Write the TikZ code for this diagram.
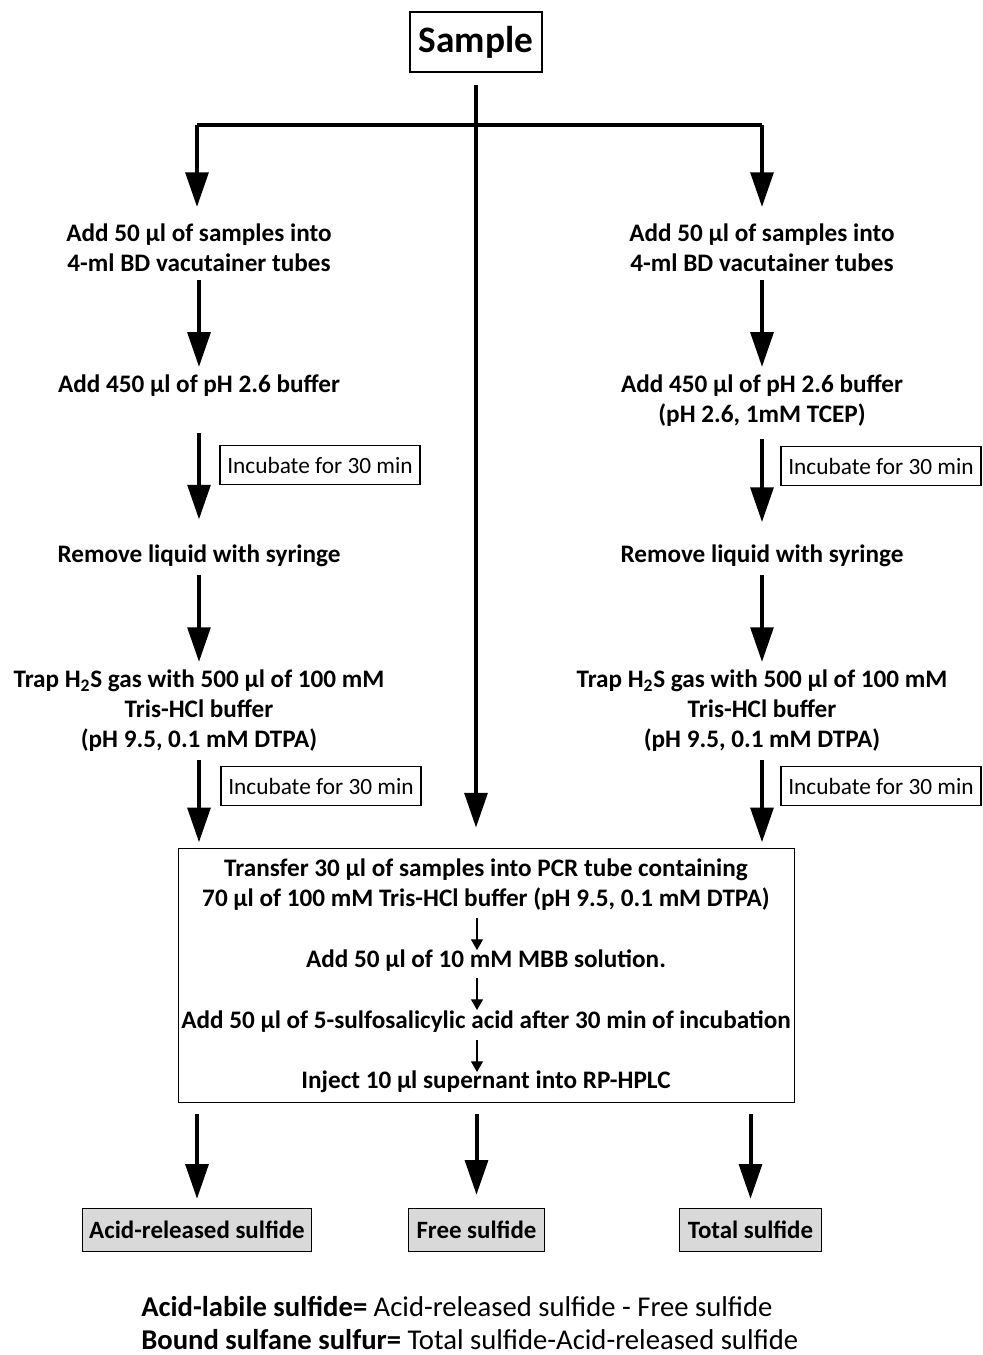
\documentclass[tikz,border=0pt]{standalone}
\usepackage{fontspec}
\setmainfont{Carlito}
\usetikzlibrary{arrows.meta}
\begin{document}
\begin{tikzpicture}[
    x=0.75pt, y=-0.75pt,
    steptext/.style={font=\bfseries\fontsize{18.9}{22.5}\selectfont, align=center, inner sep=2pt},
    incbox/.style={rectangle, draw, line width=0.8pt, font=\fontsize{17.5}{20}\selectfont, minimum width=150pt, minimum height=29pt, inner sep=2pt},
    resbox/.style={rectangle, draw, line width=0.8pt, fill=gray!30, font=\bfseries\fontsize{18.7}{22}\selectfont, minimum height=32pt, inner sep=3pt},
    bigarrow/.style={-{Triangle[width=17pt, length=26pt]}, line width=3pt},
    smallarrow/.style={-{Triangle[width=9pt, length=8pt]}, line width=0.9pt}
]
\useasboundingbox (0,0) rectangle (982,1355);

\node[rectangle, draw, line width=0.8pt, font=\bfseries\fontsize{28}{32}\selectfont, minimum width=99pt, minimum height=45pt] (sample) at (476,42) {Sample};

\coordinate (split) at (476,125);
\coordinate (splitl) at (197,125);
\coordinate (splitr) at (762,125);

% left branch
\node[steptext] (l1) at (199,248) {Add 50 µl of samples into\\4-ml BD vacutainer tubes};
\node[steptext] (l2) at (199,386) {Add 450 µl of pH 2.6 buffer};
\node[steptext] (l3) at (199,556) {Remove liquid with syringe};
\node[steptext] (l4) at (199,711) {Trap H\textsubscript{2}S gas with 500 µl of 100 mM\\Tris-HCl buffer\\(pH 9.5, 0.1 mM DTPA)};
\node[incbox] (li1) at (320,465) {Incubate for 30 min};
\node[incbox] (li2) at (321,786) {Incubate for 30 min};

% right branch
\node[steptext] (r1) at (762,248) {Add 50 µl of samples into\\4-ml BD vacutainer tubes};
\node[steptext] (r2) at (762,401) {Add 450 µl of pH 2.6 buffer\\(pH 2.6, 1mM TCEP)};
\node[steptext] (r3) at (762,556) {Remove liquid with syringe};
\node[steptext] (r4) at (762,711) {Trap H\textsubscript{2}S gas with 500 µl of 100 mM\\Tris-HCl buffer\\(pH 9.5, 0.1 mM DTPA)};
\node[incbox] (ri1) at (881,466) {Incubate for 30 min};
\node[incbox] (ri2) at (881,786) {Incubate for 30 min};

% common box
\node[rectangle, draw, line width=0.8pt, minimum width=462pt, minimum height=191pt] (main) at (486.5,975.5) {};
\node[steptext] (m1) at (486,885) {Transfer 30 µl of samples into PCR tube containing\\70 µl of 100 mM Tris-HCl buffer (pH 9.5, 0.1 mM DTPA)};
\node[steptext] (m2) at (486,961) {Add 50 µl of 10 mM MBB solution.};
\node[steptext] (m3) at (486,1022) {Add 50 µl of 5-sulfosalicylic acid after 30 min of incubation};
\node[steptext] (m4) at (486,1082) {Inject 10 µl supernant into RP-HPLC};
\coordinate (m1b) at (477,918);
\coordinate (m2t) at (477,950);
\coordinate (m2b) at (477,978);
\coordinate (m3t) at (477,1010);
\coordinate (m3b) at (477,1040);
\coordinate (m4t) at (477,1072);

% results
\node[resbox, minimum width=172pt] (acid) at (197,1230) {Acid-released sulfide};
\node[resbox, minimum width=102pt] (free) at (476.5,1230) {Free sulfide};
\node[resbox, minimum width=107pt] (total) at (750.5,1230) {Total sulfide};

\node[font=\fontsize{21.5}{25}\selectfont, anchor=west, inner sep=0pt] (eq1) at (141,1307) {\textbf{Acid-labile sulfide=} Acid-released sulfide - Free sulfide};
\node[font=\fontsize{21.5}{25}\selectfont, anchor=west, inner sep=0pt] (eq2) at (141,1340) {\textbf{Bound sulfane sulfur=} Total sulfide-Acid-released sulfide};

% connectors
\draw[line width=3pt, shorten <=9pt] (sample.south) -- (split);
\draw[line width=3pt] (splitl) -- (splitr);
\draw[bigarrow] (splitl) -- ++(0,82);
\draw[bigarrow] (splitr) -- ++(0,82);
\draw[bigarrow] (split) -- (split |- main.north) [shorten >=15pt];

\foreach \a/\b in {l1/l2, l3/l4, r1/r2, r3/r4}
  \draw[bigarrow, shorten <=4pt, shorten >=4pt] (\a) -- (\b);
\draw[bigarrow, shorten <=25pt, shorten >=17pt] (l2) -- (l3);
\draw[bigarrow, shorten <=7pt, shorten >=15pt] (r2) -- (r3);
\draw[bigarrow, shorten <=4pt, shorten >=4pt] (l4.south) -- (l4.south |- main.north);
\draw[bigarrow, shorten <=4pt, shorten >=4pt] (r4.south) -- (r4.south |- main.north);

\draw[smallarrow] (m1b) -- (m2t);
\draw[smallarrow] (m2b) -- (m3t);
\draw[smallarrow] (m3b) -- (m4t);

\draw[bigarrow, shorten <=8pt, shorten >=7pt] (main.south -| acid.north) -- (acid.north);
\draw[bigarrow, shorten <=8pt, shorten >=10pt] (main.south -| free.north) -- (free.north);
\draw[bigarrow, shorten <=8pt, shorten >=7pt] (main.south -| total.north) -- (total.north);
\end{tikzpicture}
\end{document}
